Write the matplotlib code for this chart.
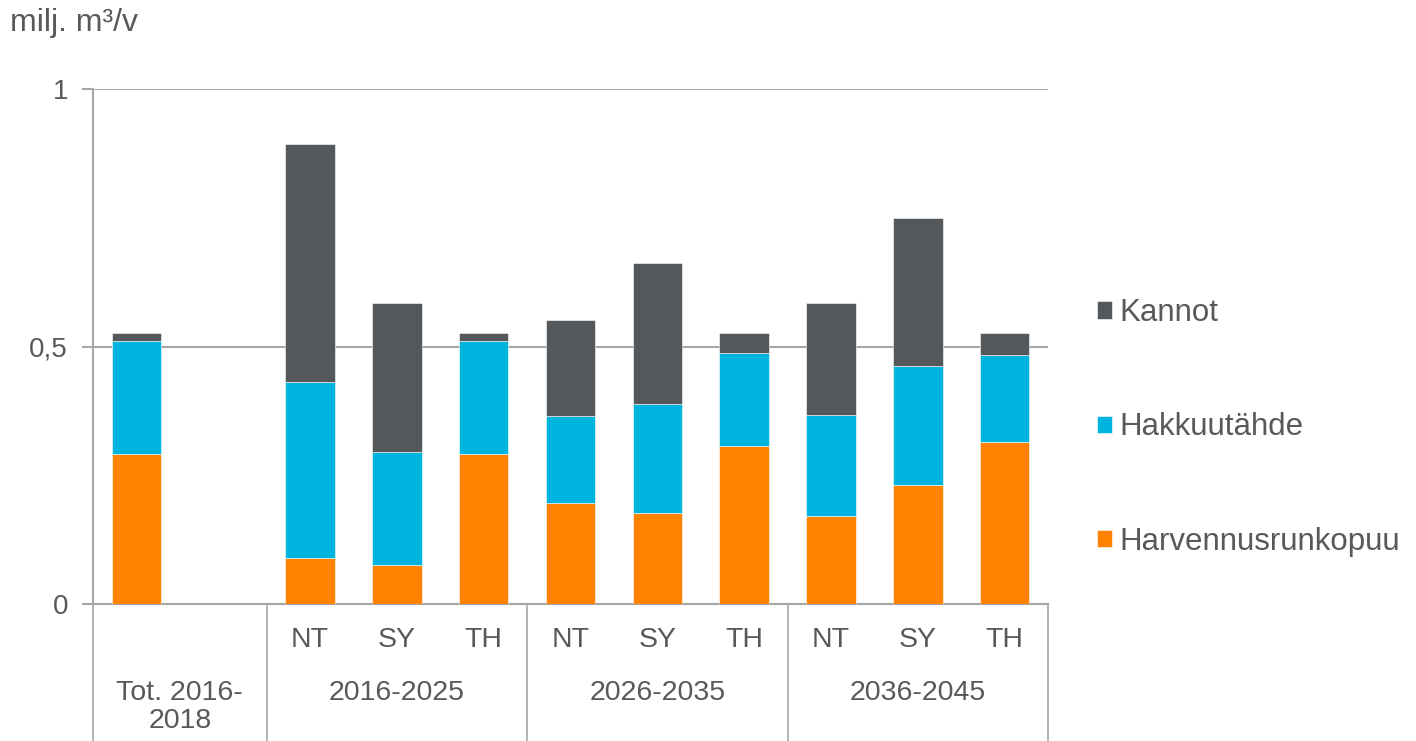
import numpy as np
import matplotlib
matplotlib.use("Agg")
import matplotlib.pyplot as plt

plt.rcParams['font.family'] = ['Liberation Sans', 'DejaVu Sans']

# data (milj. m3/v)
categories = ["Tot. 2016-2018", "NT", "SY", "TH", "NT", "SY", "TH", "NT", "SY", "TH"]
groups = ["2016-2025", "2026-2035", "2036-2045"]
harvennus = [0.291, 0.089, 0.076, 0.291, 0.197, 0.177, 0.306, 0.170, 0.232, 0.314]
hakkuutahde = [0.219, 0.342, 0.219, 0.219, 0.168, 0.212, 0.181, 0.197, 0.231, 0.170]
kannot = [0.017, 0.463, 0.289, 0.017, 0.186, 0.274, 0.040, 0.217, 0.287, 0.043]

c_orange = "#FF8200"
c_blue = "#00B4E0"
c_gray = "#54585A"
txt = "#595959"
line = "#A6A6A6"

# slot 1 is left empty after the total bar
x = np.array([0, 2, 3, 4, 5, 6, 7, 8, 9, 10])
w = 0.57

fig = plt.figure(figsize=(14.16, 7.41), dpi=100)
ax = fig.add_axes([93 / 1416, 1 - 604 / 741, (1048 - 93) / 1416, (604 - 89) / 741])

b1 = np.array(harvennus)
b2 = b1 + np.array(hakkuutahde)
ax.bar(x, harvennus, w, color=c_orange, edgecolor="white", linewidth=0.4,
       label="Harvennusrunkopuu", zorder=3)
ax.bar(x, hakkuutahde, w, bottom=b1, color=c_blue, edgecolor="white",
       linewidth=0.4, label="Hakkuutähde", zorder=3)
ax.bar(x, kannot, w, bottom=b2, color=c_gray, edgecolor="white",
       linewidth=0.4, label="Kannot", zorder=3)

ax.set_xlim(-0.5, 10.5)
ax.set_ylim(0, 1)
ax.set_yticks([0, 0.5, 1])
ax.set_yticklabels(["0", "0,5", "1"])
ax.yaxis.grid(True, color=line, linewidth=1.5, zorder=0)
ax.set_xticks([])
for s in ["top", "right"]:
    ax.spines[s].set_visible(False)
for s in ["left", "bottom"]:
    ax.spines[s].set_color(line)
    ax.spines[s].set_linewidth(1.5)
ax.tick_params(axis="y", colors=line, length=8, width=1.5, labelsize=20,
               labelcolor=txt, pad=10)

# category axis below
tr = ax.get_xaxis_transform()
for sx in [-0.5, 1.5, 4.5, 7.5, 10.5]:
    ax.plot([sx, sx], [0, -0.27], transform=tr, color=line, linewidth=1.2,
            clip_on=False)
for xi, lab in zip(x[1:], categories[1:]):
    ax.text(xi, -0.07, lab, transform=tr, ha="center", va="center",
            fontsize=20.5, color=txt)
for gx, g in zip([3, 6, 9], groups):
    ax.text(gx, -0.173, g, transform=tr, ha="center", va="center",
            fontsize=20.5, color=txt)
ax.text(0.5, -0.2, "Tot. 2016-\n2018", transform=tr, ha="center",
        va="center", fontsize=20.5, color=txt, linespacing=1.05)

fig.text(10 / 1416, 1 - 23 / 741, "milj. m³/v", fontsize=23, color=txt,
         ha="left", va="center")

h, l = ax.get_legend_handles_labels()
leg = ax.legend(h[::-1], l[::-1], loc="center left",
                bbox_to_anchor=(1.038, 0.343), frameon=False, fontsize=22.5,
                handlelength=0.48, handleheight=0.48, handletextpad=0.25,
                labelspacing=2.7, borderaxespad=0)
for t in leg.get_texts():
    t.set_color(txt)

fig.savefig("out.png", dpi=100)
